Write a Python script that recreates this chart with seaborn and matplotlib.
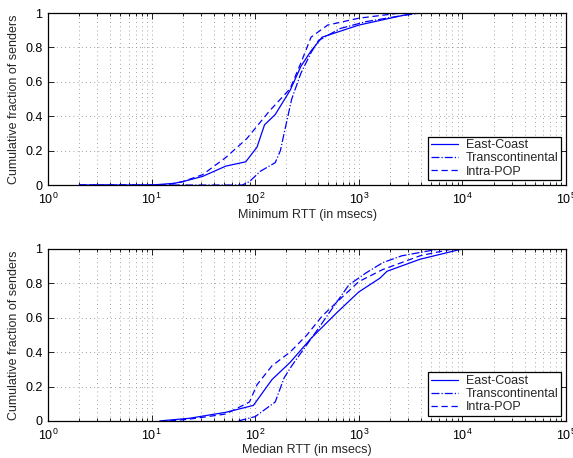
import numpy as np
import pandas as pd
import seaborn as sns
import matplotlib.pyplot as plt
from matplotlib.ticker import LogLocator, NullFormatter

# Datos (RTT en ms, fraccion acumulada)
min_east_x = [2, 10, 16.5, 20, 31, 52, 81, 104, 123, 156, 217, 276, 346, 443, 1000, 2600, 3400, 8000]
min_east_y = [0, 0, 0.01, 0.02, 0.05, 0.11, 0.135, 0.22, 0.35, 0.41, 0.55, 0.69, 0.78, 0.86, 0.93, 0.985, 1.0, 1.0]

min_trans_x = [2, 75, 88, 112, 156, 175, 190, 225, 276, 346, 408, 660, 1170, 2600, 4000, 8000]
min_trans_y = [0, 0, 0.02, 0.08, 0.13, 0.2, 0.3, 0.5, 0.65, 0.77, 0.84, 0.91, 0.95, 0.985, 1.0, 1.0]

min_intra_x = [2, 14, 20, 31, 52, 83, 137, 217, 276, 346, 500, 1000, 2500, 8000]
min_intra_y = [0, 0, 0.02, 0.06, 0.16, 0.27, 0.43, 0.56, 0.71, 0.86, 0.93, 0.97, 1.0, 1.0]

med_east_x = [12, 23, 52, 96, 145, 217, 346, 615, 1000, 1600, 1870, 3900, 10000, 25000]
med_east_y = [0, 0.015, 0.05, 0.09, 0.24, 0.34, 0.48, 0.63, 0.75, 0.83, 0.87, 0.94, 1.0, 1.0]

med_trans_x = [69, 100, 156, 190, 225, 410, 520, 800, 1170, 1700, 2600, 6000, 10000]
med_trans_y = [0, 0.025, 0.11, 0.25, 0.32, 0.54, 0.63, 0.79, 0.86, 0.92, 0.96, 1.0, 1.0]

med_intra_x = [15, 23, 52, 88, 104, 145, 217, 316, 443, 720, 1000, 1700, 3900, 8000, 12000]
med_intra_y = [0, 0.01, 0.04, 0.11, 0.21, 0.32, 0.40, 0.50, 0.61, 0.73, 0.81, 0.88, 0.96, 1.0, 1.0]

series = ['East-Coast', 'Transcontinental', 'Intra-POP']
estilos = {'East-Coast': '-', 'Transcontinental': '-.', 'Intra-POP': (0, (5, 3))}

paneles = [
    ('Minimum RTT (in msecs)', [(min_east_x, min_east_y), (min_trans_x, min_trans_y), (min_intra_x, min_intra_y)]),
    ('Median RTT (in msecs)', [(med_east_x, med_east_y), (med_trans_x, med_trans_y), (med_intra_x, med_intra_y)]),
]

sns.set_style('white')
plt.rcParams['font.family'] = ['Liberation Sans', 'DejaVu Sans']
plt.rcParams['font.size'] = 9
plt.rcParams['mathtext.fontset'] = 'custom'
plt.rcParams['mathtext.rm'] = 'Liberation Sans'

fig = plt.figure(figsize=(5.73, 4.58), dpi=100)
posiciones = [[0.0838, 0.596, 0.904, 0.3755], [0.0838, 0.081, 0.904, 0.3755]]

for pos, (xlabel, datos) in zip(posiciones, paneles):
    ax = fig.add_axes(pos)
    for nombre, (xs, ys) in zip(series, datos):
        df = pd.DataFrame({'x': xs, 'y': ys})
        sns.lineplot(data=df, x='x', y='y', ax=ax, color='#0000ff', lw=0.9,
                     linestyle=estilos[nombre], label=nombre, estimator=None, sort=False)
    ax.set_xscale('log')
    ax.set_xlim(1, 1e5)
    ax.set_ylim(0, 1)
    ax.set_yticks([0, 0.2, 0.4, 0.6, 0.8, 1])
    ax.set_yticklabels(['0', '0.2', '0.4', '0.6', '0.8', '1'])
    ax.xaxis.set_major_locator(LogLocator(base=10, numticks=10))
    ax.xaxis.set_minor_locator(LogLocator(base=10, subs=np.arange(2, 10), numticks=10))
    ax.xaxis.set_minor_formatter(NullFormatter())
    ax.grid(True, which='major', axis='both', color='#888888', linestyle=(0, (1, 4)), lw=0.6)
    ax.grid(True, which='minor', axis='x', color='#888888', linestyle=(0, (1, 4)), lw=0.6)
    ax.tick_params(which='both', direction='in', top=True, right=True, bottom=True, left=True,
                   colors='black', labelsize=9)
    ax.tick_params(which='major', length=4, width=0.6)
    ax.tick_params(which='minor', length=2, width=0.6)
    ax.tick_params(axis='x', which='major', pad=5)
    ax.tick_params(axis='y', which='major', pad=4)
    for s in ax.spines.values():
        s.set_color('black')
        s.set_linewidth(0.9)
    ax.set_xlabel(xlabel, fontsize=9, labelpad=1)
    ax.set_ylabel('Cumulative fraction of senders', fontsize=9, labelpad=4)
    leg = ax.legend(loc='lower right', frameon=True, fancybox=False, fontsize=9,
                    handlelength=2.2, borderaxespad=0.4, borderpad=0.2, labelspacing=0.1,
                    handletextpad=0.6)
    leg.get_frame().set_edgecolor('black')
    leg.get_frame().set_linewidth(0.9)
    leg.get_frame().set_alpha(1)

fig.savefig('out.png', dpi=100)
